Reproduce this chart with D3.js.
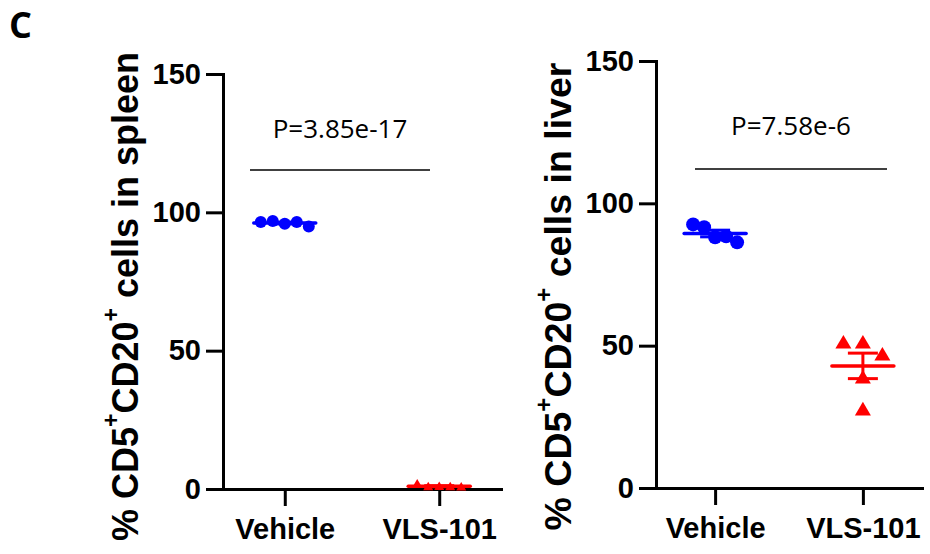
<!DOCTYPE html>
<html lang="en">
<head>
<meta charset="UTF-8">
<title>CD5+CD20+ cells</title>
<script src="https://d3js.org/d3.v7.min.js"></script>
<style>
    body { margin: 0; background: #fff; }
    svg { display: block; font-family: "Liberation Sans", Arial, sans-serif; }
    .axis path, .axis line { stroke: #000; stroke-width: 3px; }
    .axis text { font-size: 29px; font-weight: bold; fill: #000; }
    .ytitle { font-weight: bold; }
    .pval { font-family: "Open Sans", sans-serif; font-size: 26px; }
</style>
</head>
<body>
<svg id="chart" width="930" height="554"></svg>
<script>
    // groups and y ticks
    const groups = ["Vehicle", "VLS-101"];
    const yTicks = [0, 50, 100, 150];

    // % CD5+CD20+ cells, spleen
    const spleenVehicle = [96.5, 96.9, 95.9, 96.5, 94.9];
    const spleenVLS = [1.8, 0.8, 0.9, 0.8, 0.7];
    const spleenP = "P=3.85e-17";

    // % CD5+CD20+ cells, liver
    const liverVehicle = [92.6, 91.6, 88.1, 88.4, 86.3];
    const liverVLS = [50.9, 50.9, 46.7, 38.6, 27.4];
    const liverP = "P=7.58e-6";

    const svg = d3.select("#chart");

    svg.append("text")
        .attr("x", 9).attr("y", 38)
        .attr("font-size", 36).attr("font-weight", "bold")
        .attr("font-family", "Open Sans, sans-serif")
        .text("C");

    const panels = [
        {
            organ: "spleen", vehicle: spleenVehicle, vls: spleenVLS, p: spleenP,
            x0: 223, x1: 501, yTop: 74, yBottom: 489, titleX: 125, titleSize: 36,
            dotR: 6, triW: 10, spread: [12, 11], barY: 170, pY: 138, pX: [250, 430]
        },
        {
            organ: "liver", vehicle: liverVehicle, vls: liverVLS, p: liverP,
            x0: 656, x1: 922, yTop: 61, yBottom: 488, titleX: 558, titleSize: 37.5,
            dotR: 7, triW: 16, spread: [11, 19.5], barY: 169, pY: 135, pX: [695, 887]
        }
    ];

    // put points that sit close together on one row, spread evenly round the group centre
    function swarm(values, y, minGap, step) {
        const idx = d3.range(values.length).sort((a, b) => values[b] - values[a]);
        const clusters = [];
        let cur = [idx[0]];
        for (let k = 1; k < idx.length; k++) {
            if (Math.abs(y(values[idx[k]]) - y(values[idx[k - 1]])) < minGap) cur.push(idx[k]);
            else { clusters.push(cur); cur = [idx[k]]; }
        }
        clusters.push(cur);
        const off = new Array(values.length).fill(0);
        clusters.forEach(c => {
            c.sort((a, b) => a - b);
            c.forEach((i, j) => { off[i] = (j - (c.length - 1) / 2) * step; });
        });
        return off;
    }

    panels.forEach(pn => {
        const g = svg.append("g");

        const y = d3.scaleLinear().domain([0, 150]).range([pn.yBottom, pn.yTop]);
        const x = d3.scalePoint().domain(groups).range([pn.x0, pn.x1]).padding(0.4);

        g.append("g")
            .attr("class", "axis")
            .attr("transform", `translate(${pn.x0},0)`)
            .call(d3.axisLeft(y).tickValues(yTicks).tickSize(17).tickSizeOuter(0).tickPadding(5));

        g.append("g")
            .attr("class", "axis")
            .attr("transform", `translate(0,${pn.yBottom})`)
            .call(d3.axisBottom(x).tickSize(17).tickSizeOuter(0).tickPadding(12))
            .selectAll("text").attr("font-size", 31);

        g.selectAll(".axis path").attr("stroke-linecap", "square");

        // y title
        const sup = pn.titleSize * 0.64, lift = pn.titleSize * 0.39;
        const t = g.append("text")
            .attr("class", "ytitle")
            .attr("font-size", pn.titleSize)
            .attr("transform", `translate(${pn.titleX},${(48 + 545) / 2}) rotate(-90)`)
            .attr("text-anchor", "middle")
            .attr("dominant-baseline", "central");
        t.append("tspan").text("% CD5");
        t.append("tspan").attr("font-size", sup).attr("dy", -lift).text("+");
        t.append("tspan").attr("dy", lift).text("CD20");
        t.append("tspan").attr("font-size", sup).attr("dy", -lift).text("+");
        t.append("tspan").attr("dy", lift).text(" cells in " + pn.organ);

        // p value
        g.append("line")
            .attr("x1", pn.pX[0]).attr("x2", pn.pX[1])
            .attr("y1", pn.barY).attr("y2", pn.barY)
            .attr("stroke", "#000").attr("stroke-width", 1.3);
        g.append("text")
            .attr("class", "pval")
            .attr("x", (pn.pX[0] + pn.pX[1]) / 2).attr("y", pn.pY)
            .attr("text-anchor", "middle")
            .text(pn.p);

        const sets = [
            { key: groups[0], vals: pn.vehicle, color: "#0000ff", shape: "circle", step: pn.spread[0] },
            { key: groups[1], vals: pn.vls, color: "#ff0000", shape: "tri", step: pn.spread[1] }
        ];

        sets.forEach(s => {
            const cx = x(s.key);
            const m = d3.mean(s.vals);
            const sem = d3.deviation(s.vals) / Math.sqrt(s.vals.length);
            const off = swarm(s.vals, y, 16, s.step);

            // sem bars
            g.append("line")
                .attr("x1", cx).attr("x2", cx)
                .attr("y1", y(m + sem)).attr("y2", y(m - sem))
                .attr("stroke", s.color).attr("stroke-width", 3);
            [m + sem, m - sem].forEach(v => {
                g.append("line")
                    .attr("x1", cx - 15).attr("x2", cx + 15)
                    .attr("y1", y(v)).attr("y2", y(v))
                    .attr("stroke", s.color).attr("stroke-width", 3);
            });

            if (s.shape === "circle") {
                g.selectAll(null).data(s.vals).join("circle")
                    .attr("cx", (d, i) => cx + off[i])
                    .attr("cy", d => y(d))
                    .attr("r", pn.dotR)
                    .attr("fill", s.color);
            } else {
                const w = pn.triW, h = w * 0.85;
                g.selectAll(null).data(s.vals).join("path")
                    .attr("d", (d, i) => {
                        const px = cx + off[i], py = y(d);
                        return `M${px},${py - h * 0.6}L${px + w / 2},${py + h * 0.4}L${px - w / 2},${py + h * 0.4}Z`;
                    })
                    .attr("fill", s.color);
            }

            // mean line
            g.append("line")
                .attr("x1", cx - 31).attr("x2", cx + 31)
                .attr("y1", y(m)).attr("y2", y(m))
                .attr("stroke", s.color).attr("stroke-width", 3.5)
                .attr("stroke-linecap", "round");
        });
    });
</script>
</body>
</html>
